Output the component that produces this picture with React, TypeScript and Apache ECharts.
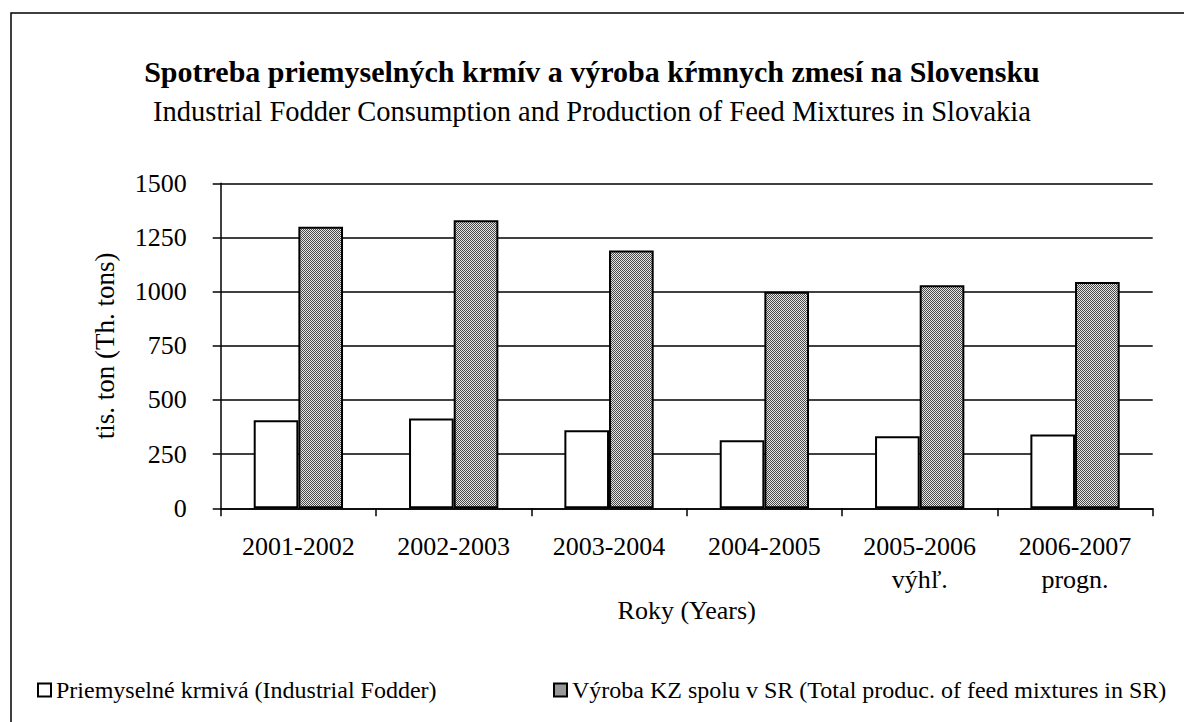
import React, { useEffect, useRef } from "react";
import * as echarts from "echarts";

const categories = ["2001-2002", "2002-2003", "2003-2004", "2004-2005", "2005-2006\nvýhľ.", "2006-2007\nprogn."];
const fodderName = "Priemyselné krmivá (Industrial Fodder)";
const mixName = "Výroba KZ spolu v SR (Total produc. of feed mixtures in SR)";
const fodderValues = [406, 414, 360, 314, 332, 341];
const mixValues = [1300, 1330, 1190, 1000, 1030, 1045];
const yTicks = { min: 0, max: 1500, interval: 250 };

const FONT = "'Liberation Serif', 'Times New Roman', serif";

export default function App() {
  const ref = useRef<HTMLDivElement>(null);
  useEffect(() => {
    if (!ref.current) return;
    const chart = echarts.init(ref.current, null, { renderer: "svg" });
    const c = document.createElement("canvas");
    c.width = 2;
    c.height = 2;
    const ctx = c.getContext("2d")!;
    ctx.fillStyle = "#e6e6e6";
    ctx.fillRect(0, 0, 2, 2);
    ctx.fillStyle = "#4a4a4a";
    ctx.fillRect(0, 0, 1, 1);
    ctx.fillRect(1, 1, 1, 1);
    const pattern: any = { image: c.toDataURL(), repeat: "repeat", imageWidth: 2, imageHeight: 2 };

    chart.setOption({
      animation: false,
      backgroundColor: "#fff",
      textStyle: { fontFamily: FONT, color: "#000" },
      title: {
        left: "center",
        top: 55,
        padding: 0,
        text: "Spotreba priemyselných krmív a výroba kŕmnych zmesí na Slovensku",
        subtext: "Industrial Fodder Consumption and Production of Feed Mixtures in Slovakia",
        itemGap: 8,
        textStyle: { fontFamily: FONT, fontSize: 30, fontWeight: "bold", color: "#000", lineHeight: 32 },
        subtextStyle: { fontFamily: FONT, fontSize: 28.5, color: "#000", lineHeight: 32 },
      },
      legend: [
        {
          left: 37,
          top: 678,
          padding: 0,
          data: [fodderName],
          icon: "rect",
          itemWidth: 13,
          itemHeight: 13,
          itemGap: 5,
          textStyle: { fontFamily: FONT, fontSize: 24, color: "#000" },
        },
        {
          left: 553,
          top: 678,
          padding: 0,
          data: [mixName],
          icon: "rect",
          itemWidth: 13,
          itemHeight: 13,
          itemGap: 5,
          textStyle: { fontFamily: FONT, fontSize: 24, color: "#000" },
        },
      ],
      grid: { left: 220.7, right: 31.3, top: 183.3, bottom: 213.7 },
      xAxis: {
        type: "category",
        data: categories,
        name: "Roky (Years)",
        nameLocation: "middle",
        nameGap: 78,
        nameTextStyle: { fontFamily: FONT, fontSize: 26, color: "#000" },
        axisLine: { lineStyle: { color: "#000", width: 1.5 } },
        axisTick: { show: true, length: 8, lineStyle: { color: "#000", width: 1.5 } },
        axisLabel: { fontFamily: FONT, fontSize: 26, color: "#000", margin: 22, lineHeight: 33 },
      },
      yAxis: {
        type: "value",
        min: yTicks.min,
        max: yTicks.max,
        interval: yTicks.interval,
        name: "tis. ton (Th. tons)",
        nameLocation: "middle",
        nameGap: 102,
        nameTextStyle: { fontFamily: FONT, fontSize: 27, color: "#000" },
        axisLine: { show: true, lineStyle: { color: "#000", width: 1.5 } },
        axisTick: { show: true, length: 8, lineStyle: { color: "#000", width: 1.5 } },
        axisLabel: { fontFamily: FONT, fontSize: 26, color: "#000", margin: 34, formatter: (v: number) => String(v) },
        splitLine: { show: true, lineStyle: { color: "#000", width: 1.5 } },
      },
      series: [
        {
          name: fodderName,
          type: "bar",
          data: fodderValues,
          barGap: "0%",
          barCategoryGap: "42.5%",
          itemStyle: { color: "#fff", borderColor: "#000", borderWidth: 2 },
        },
        {
          name: mixName,
          type: "bar",
          data: mixValues,
          barGap: "0%",
          barCategoryGap: "42.5%",
          itemStyle: { color: pattern, borderColor: "#000", borderWidth: 2 },
        },
      ],
      graphic: [
        {
          type: "rect",
          shape: { x: 11, y: 13, width: 1200, height: 740 },
          style: { fill: "none", stroke: "#000", lineWidth: 1.5 },
          silent: true,
        },
      ],
    });
    return () => chart.dispose();
  }, []);
  return (
    <div
      ref={ref}
      style={{ position: "fixed", left: 0, top: 0, width: 1184, height: 722 }}
    />
  );
}
